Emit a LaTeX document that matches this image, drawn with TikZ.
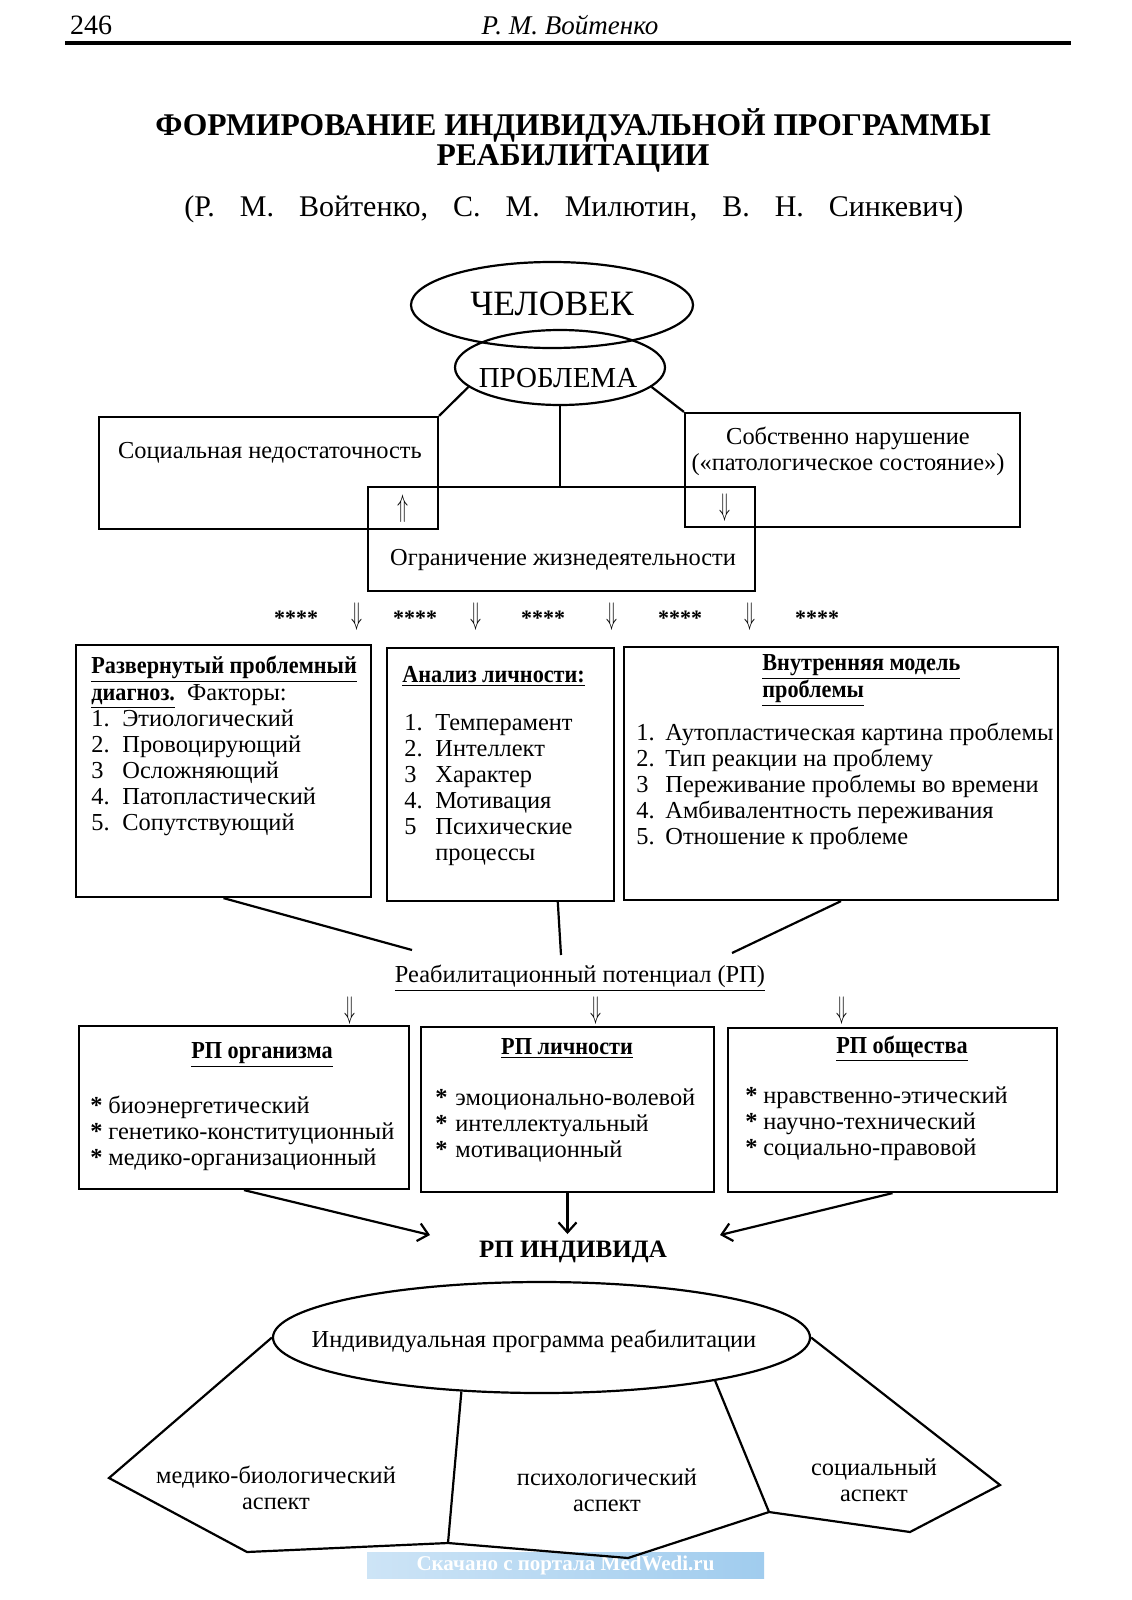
\documentclass[tikz,border=0pt]{standalone}
\usepackage{fontspec}
\setmainfont{Liberation Serif}
\usepackage{tikz}
\usetikzlibrary{shapes}
\usetikzlibrary{arrows.meta}
\usetikzlibrary{calc}
\tikzset{>={Straight Barb[length=5pt,width=9pt]}}
\definecolor{wmblue}{RGB}{160,204,238}
\definecolor{wmlight}{RGB}{205,228,246}
\newcommand{\ubf}[1]{\scalebox{0.91}[1]{\underline{\textbf{#1}}}}
\newcommand{\txtsize}{\fontsize{12.2}{13}\selectfont}
\newcommand{\dnarr}{\scalebox{0.75}[1.3]{$\Downarrow$}}
\newcommand{\uparr}{\scalebox{0.75}[1.3]{$\Uparrow$}}
\tikzset{
  box/.style={draw, line width=1.1pt, inner sep=0pt},
  oval/.style={draw, ellipse, line width=1.1pt, inner sep=0pt},
  txt/.style={inner sep=0pt, font=\txtsize},
  arr/.style={inner sep=0pt, font=\fontsize{13}{13}\selectfont},
  stars/.style={inner sep=0pt, font=\fontsize{11}{11}\selectfont\bfseries},
  link/.style={line width=1.1pt}
}

\begin{document}
\begin{tikzpicture}[x=0.5pt, y=-0.5pt]
      \useasboundingbox (0,0) rectangle (1131,1600);
      \fill[white] (0,0) rectangle (1131,1600);

      % page head
      \node (page) at (63,25) [anchor=west, font=\fontsize{14}{14}\selectfont] {246};
      \node (head) at (570,25) [font=\fontsize{13.5}{13.5}\selectfont\itshape] {Р. М. Войтенко};
      \draw[line width=1.6pt] (65,43) -- (1071,43);

      % title
      \node (title) at (573,140) [align=center, font=\fontsize{15.8}{15}\selectfont\bfseries] {ФОРМИРОВАНИЕ ИНДИВИДУАЛЬНОЙ ПРОГРАММЫ\\РЕАБИЛИТАЦИИ};
      \node (authors) at (574,209) [font=\fontsize{15}{15}\selectfont] {\frenchspacing\spaceskip=12.5pt (Р. М. Войтенко, С. М. Милютин, В. Н. Синкевич)};

      % man and problem
      \node (man) at (552,305) [oval, minimum width=141pt, minimum height=43pt] {};
      \node (mantxt) at (552,304) [font=\fontsize{17.8}{17.8}\selectfont] {ЧЕЛОВЕК};
      \node (problem) at (560,367.5) [oval, minimum width=105pt, minimum height=37.5pt] {};
      \node (problemtxt) at (558,378) [font=\fontsize{14.5}{14.5}\selectfont] {ПРОБЛЕМА};

      \node (social) at (268.5,473) [box, minimum width=169.5pt, minimum height=56pt] {};
      \node (disorder) at (852.5,470) [box, minimum width=167.5pt, minimum height=57pt] {};
      \node (limit) at (561.5,539) [box, minimum width=193.5pt, minimum height=52pt] {};
      \node (socialtxt) at (270,453) [txt] {Социальная недостаточность};
      \node (disordertxt) at (848,451.5) [txt, align=center] {Собственно нарушение\\(«патологическое состояние»)};
      \node (limittxt) at (563,560) [txt] {Ограничение жизнедеятельности};
      \node (up) at (403,509) [arr] {\uparr};
      \node (down) at (725,508) [arr] {\dnarr};

      \draw[link] (problem.192) -- (social.north east);
      \draw[link] (problem.south) -- (problem.south |- limit.north);
      \draw[link] (problem.348) -- (disorder.north west);

      % stars and arrows
      \node (s1) at (296,618) [stars] {****};
      \node (a1) at (357,617) [arr] {\dnarr};
      \node (s2) at (415,618) [stars] {****};
      \node (a2) at (476,617) [arr] {\dnarr};
      \node (s3) at (543,618) [stars] {****};
      \node (a3) at (612,617) [arr] {\dnarr};
      \node (s4) at (680,618) [stars] {****};
      \node (a4) at (750,617) [arr] {\dnarr};
      \node (s5) at (817,618) [stars] {****};

      % diagnosis, personality, inner model
      \node (diag) at (223.5,771) [box, minimum width=147.5pt, minimum height=126pt] {};
      \node (pers) at (500.5,774.5) [box, minimum width=113.5pt, minimum height=126.5pt] {};
      \node (model) at (841,773.5) [box, minimum width=217pt, minimum height=126.5pt] {};

      \node (diagtxt) at (91,673) [txt, anchor=base west] {%
        \begin{tabular}[t]{@{}p{15.5pt}@{}l@{}}
        \multicolumn{2}{@{}l@{}}{\ubf{Развернутый проблемный}}\\
        \multicolumn{2}{@{}l@{}}{\ubf{диагноз.}\ \ Факторы:}\\
        1. & Этиологический\\
        2. & Провоцирующий\\
        3 & Осложняющий\\
        4. & Патопластический\\
        5. & Сопутствующий
        \end{tabular}};
      \node (perstitle) at (402,682) [txt, anchor=base west] {\ubf{Анализ личности:}};
      \node (perstxt) at (404,730) [txt, anchor=base west] {%
        \begin{tabular}[t]{@{}p{15.5pt}@{}l@{}}
        1. & Темперамент\\
        2. & Интеллект\\
        3 & Характер\\
        4. & Мотивация\\
        5 & Психические\\
          & процессы
        \end{tabular}};
      \node (modeltitle) at (762,670) [txt, anchor=base west] {%
        \begin{tabular}[t]{@{}l@{}}
        \ubf{Внутренняя модель}\\
        \ubf{проблемы}
        \end{tabular}};
      \node (modeltxt) at (636,740) [txt, anchor=base west] {%
        \begin{tabular}[t]{@{}p{14.5pt}@{}l@{}}
        1. & Аутопластическая картина проблемы\\
        2. & Тип реакции на проблему\\
        3 & Переживание проблемы во времени\\
        4. & Амбивалентность переживания\\
        5. & Отношение к проблеме
        \end{tabular}};

      % rehabilitation potential
      \node (rp) at (580,978) [txt] {\underline{Реабилитационный потенциал (РП)}};
      \coordinate (rpa) at (412,950);
      \coordinate (rpb) at (561,955);
      \coordinate (rpc) at (732,953);
      \draw[link] (diag.south) -- (rpa);
      \draw[link] ($(pers.south west)!0.75!(pers.south east)$) -- (rpb);
      \draw[link] (model.south) -- (rpc);

      \node (b1) at (350,1011) [arr] {\dnarr};
      \node (b2) at (596,1011) [arr] {\dnarr};
      \node (b3) at (842,1011) [arr] {\dnarr};

      \node (org) at (244,1107.5) [box, minimum width=165pt, minimum height=81.5pt] {};
      \node (lich) at (567.5,1109.5) [box, minimum width=146.5pt, minimum height=82.5pt] {};
      \node (soc) at (892.5,1110) [box, minimum width=164.5pt, minimum height=82pt] {};

      \node (orgtitle) at (262,1058) [txt, anchor=base] {\ubf{РП организма}};
      \node (lichtitle) at (567,1054) [txt, anchor=base] {\ubf{РП личности}};
      \node (soctitle) at (902,1053) [txt, anchor=base] {\ubf{РП общества}};
      \node (orgtxt) at (90,1113) [txt, anchor=base west] {%
        \begin{tabular}[t]{@{}p{9pt}@{}l@{}}
        \textbf{*} & биоэнергетический\\
        \textbf{*} & генетико-конституционный\\
        \textbf{*} & медико-организационный
        \end{tabular}};
      \node (lichtxt) at (435,1105) [txt, anchor=base west] {%
        \begin{tabular}[t]{@{}p{10pt}@{}l@{}}
        \textbf{*} & эмоционально-волевой\\
        \textbf{*} & интеллектуальный\\
        \textbf{*} & мотивационный
        \end{tabular}};
      \node (soctxt) at (745,1103) [txt, anchor=base west] {%
        \begin{tabular}[t]{@{}p{9pt}@{}l@{}}
        \textbf{*} & нравственно-этический\\
        \textbf{*} & научно-технический\\
        \textbf{*} & социально-правовой
        \end{tabular}};

      % individual
      \node (indiv) at (573,1252) [font=\fontsize{12.5}{13}\selectfont\bfseries] {РП ИНДИВИДА};
      \coordinate (inda) at (430,1235);
      \coordinate (indc) at (720,1235);
      \draw[link, ->] (org.south) -- (inda);
      \draw[link, ->] (lich.south) -- (lich.south |- indiv.north);
      \draw[link, ->] (soc.south) -- (indc);

      % programme and aspects
      \node (mark) at (565.5,1565) [left color=wmlight, right color=wmblue, minimum width=198.5pt, minimum height=13pt, inner sep=0pt, text=white, font=\fontsize{10.5}{10.5}\selectfont\bfseries] {Скачано с портала MedWedi.ru};

      \node (plan) at (541.5,1337.5) [oval, minimum width=268.5pt, minimum height=55.5pt] {};
      \node (plantxt) at (534,1341) [txt] {Индивидуальная программа реабилитации};
      \coordinate (p1) at (109,1478);
      \coordinate (p2) at (247,1552);
      \coordinate (p3) at (448,1543);
      \coordinate (p4) at (628,1558);
      \coordinate (p5) at (769,1512);
      \coordinate (p6) at (910,1532);
      \coordinate (p7) at (1000,1485);
      \draw[link] (plan.west) -- (p1) -- (p2) -- (p3) -- (p4) -- (p5) -- (p6) -- (p7) -- (plan.east);
      \draw[link] (plan.214) -- (p3);
      \draw[link] (plan.346) -- (p5);

      \node (medasp) at (276,1488) [txt, align=center] {медико-биологический\\аспект};
      \node (psyasp) at (607,1490) [txt, align=center] {психологический\\аспект};
      \node (socasp) at (874,1480) [txt, align=center] {социальный\\аспект};
    \end{tikzpicture}
\end{document}
